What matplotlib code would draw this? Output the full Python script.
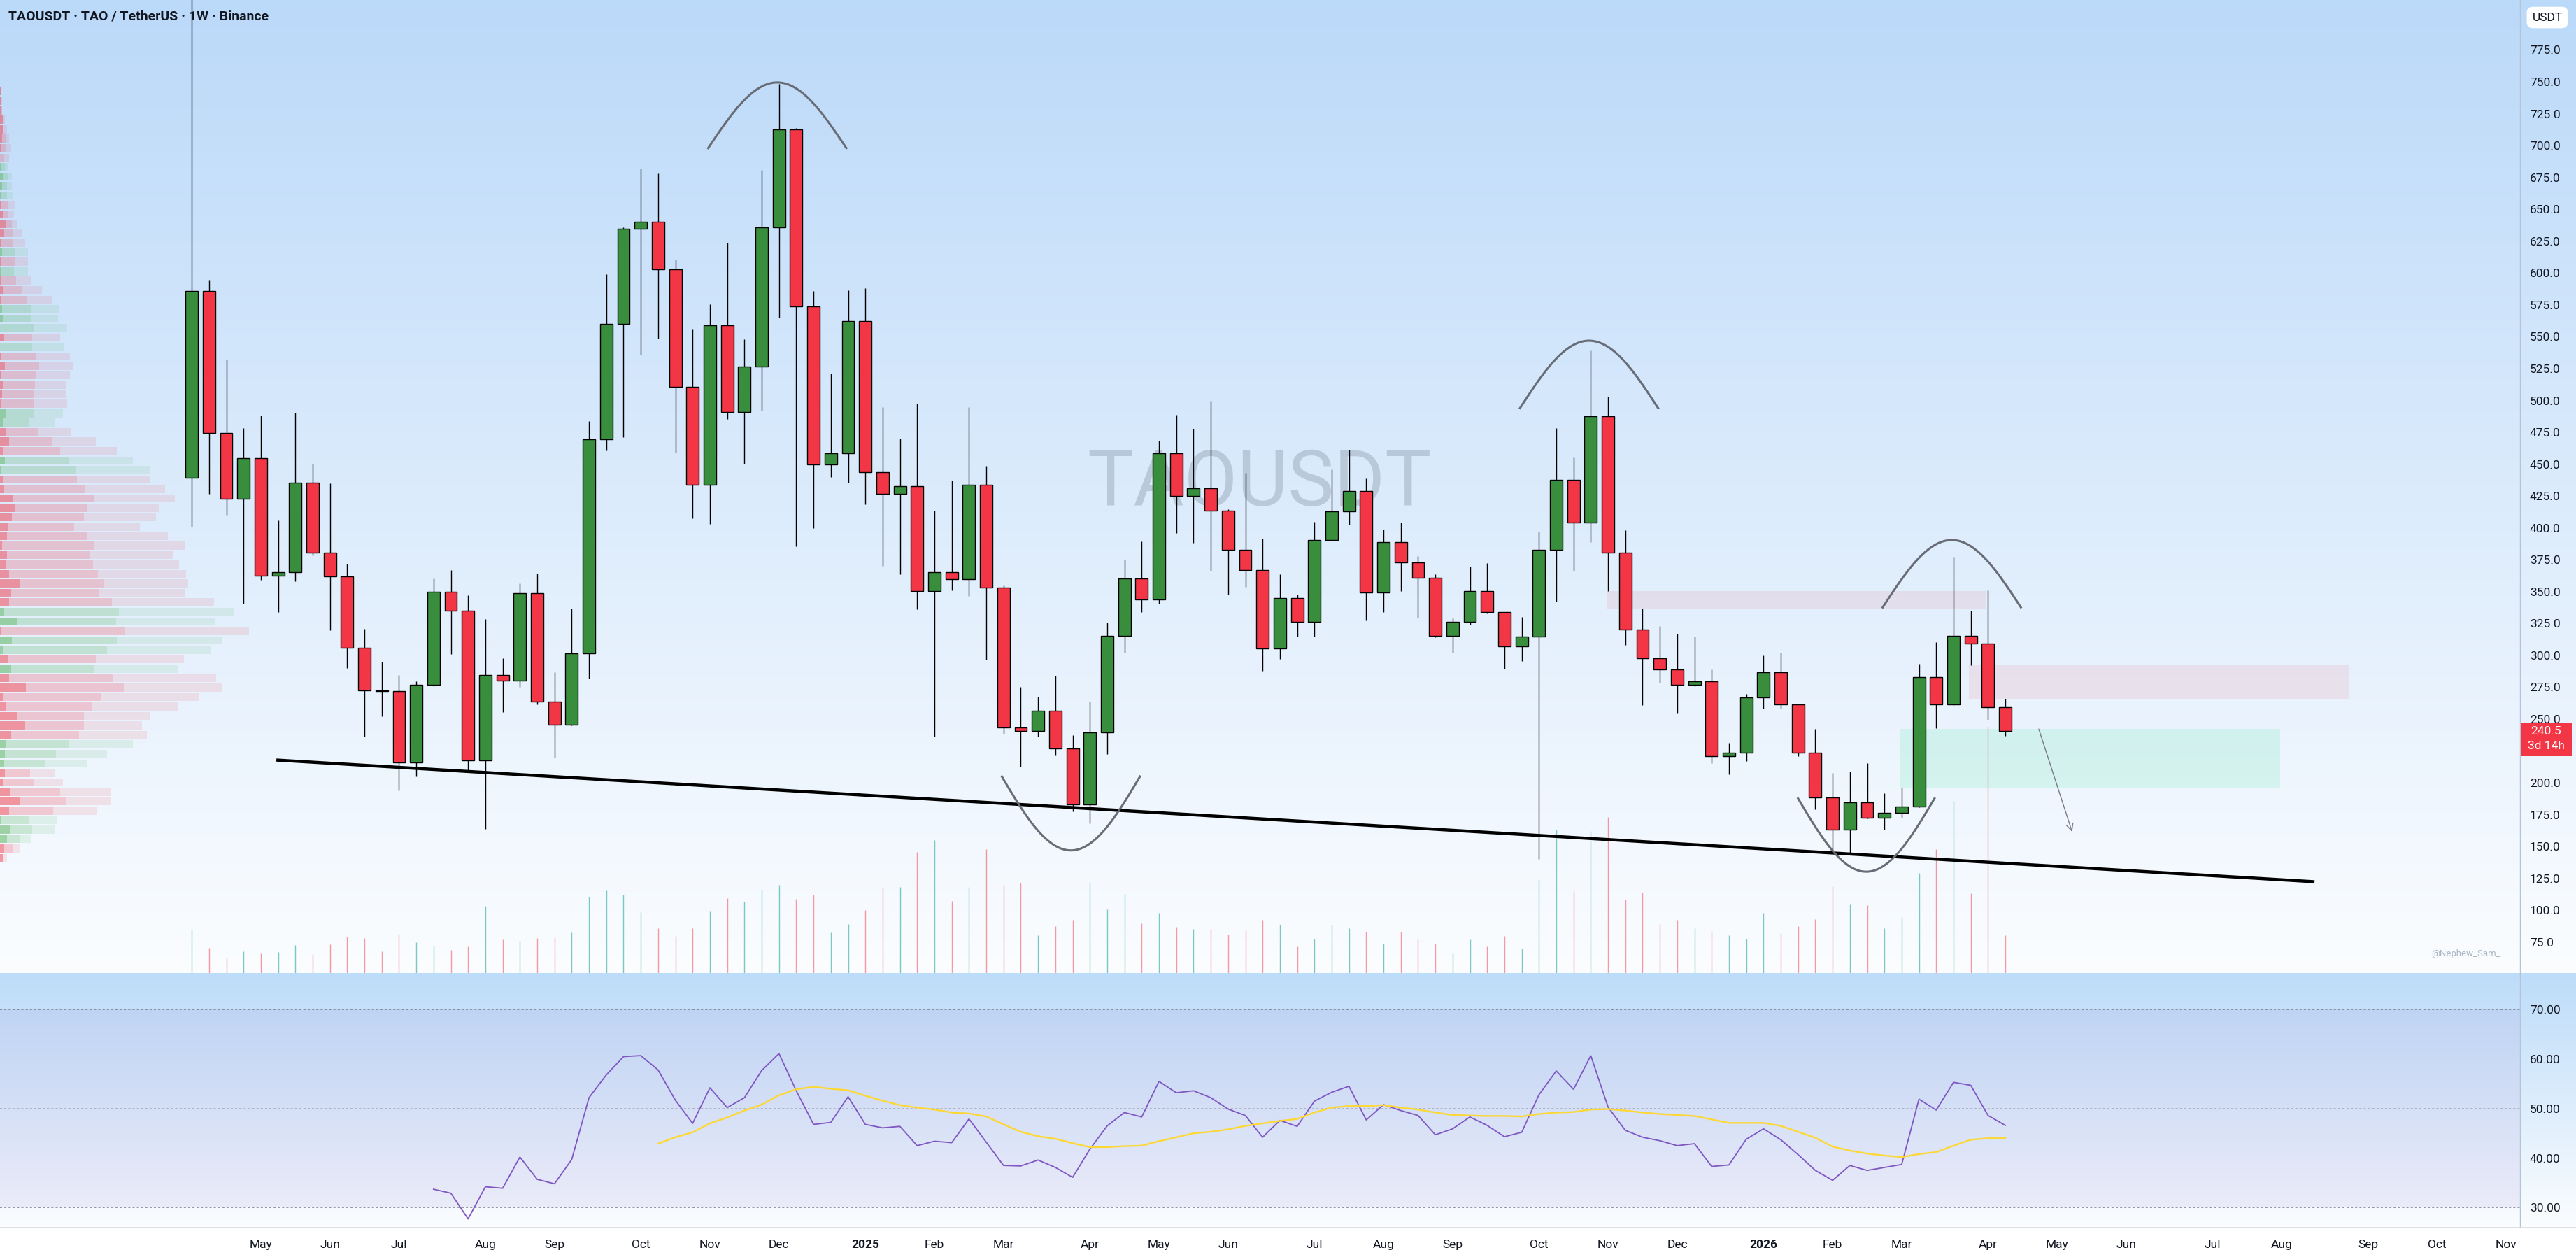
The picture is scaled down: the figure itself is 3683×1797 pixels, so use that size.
import matplotlib
matplotlib.use("Agg")
import matplotlib.pyplot as plt
import matplotlib.transforms as mtransforms
from matplotlib.patches import Rectangle
from matplotlib.lines import Line2D
import numpy as np
import pandas as pd

plt.rcParams["font.family"] = ["Roboto", "DejaVu Sans"]

# ---- data (weekly TAO/USDT, Binance) ----
FIRST_WEEK = "2024-04-08"
opens = [439.3, 585.8, 474.7, 423.1, 455.0, 362.3, 365.3, 435.3, 380.6, 361.8,
         305.8, 272.6, 272.0, 216.2, 276.9, 350.0, 335.2, 217.9, 284.8, 280.0,
         348.7, 263.8, 245.4, 301.4, 469.4, 560.0, 634.8, 640.1, 602.9, 510.6,
         433.6, 559.1, 490.9, 526.8, 635.7, 712.7, 573.6, 449.8, 458.5, 562.2,
         443.6, 426.6, 432.7, 350.4, 365.3, 359.6, 434.0, 353.1, 243.3, 240.6,
         256.4, 227.1, 183.3, 239.8, 315.4, 360.1, 343.9, 458.5, 425.3, 431.4,
         413.4, 382.8, 367.1, 305.4, 345.2, 326.4, 390.3, 413.0, 428.8, 349.1,
         388.9, 372.8, 360.9, 315.4, 326.4, 350.4, 333.8, 307.1, 315.0, 382.8,
         437.9, 404.3, 487.8, 380.6, 320.3, 297.5, 289.2, 276.9, 279.6, 220.9,
         223.6, 266.9, 286.6, 261.6, 223.8, 188.3, 163.1, 184.5, 172.8, 176.6,
         181.3, 282.8, 261.3, 315.2, 309.5, 259.4]
highs = [830.0, 594.1, 532.0, 478.2, 488.3, 406.0, 490.4, 450.2, 434.9, 371.9,
         320.7, 294.9, 284.8, 279.6, 360.5, 367.1, 347.4, 328.6, 298.0, 356.6,
         364.0, 287.0, 336.9, 483.9, 598.9, 636.0, 682.1, 678.1, 610.8, 555.6,
         575.3, 623.9, 548.2, 680.8, 748.6, 714.0, 585.8, 521.1, 586.3, 588.0,
         494.8, 469.9, 497.4, 413.4, 437.1, 494.8, 448.9, 354.8, 275.2, 267.8,
         283.9, 237.6, 263.8, 325.5, 374.9, 389.4, 468.6, 488.7, 477.8, 499.6,
         414.8, 443.2, 391.6, 363.6, 347.8, 404.7, 445.8, 461.1, 438.8, 398.6,
         404.3, 378.0, 363.6, 329.0, 369.7, 372.3, 333.8, 330.3, 397.3, 478.6,
         455.4, 539.4, 503.2, 398.1, 336.9, 322.9, 317.2, 314.6, 289.2, 231.4,
         269.9, 300.2, 302.3, 262.0, 242.4, 207.5, 208.7, 215.3, 191.7, 196.4,
         293.2, 310.5, 377.3, 335.0, 350.8, 265.8]
lows = [400.8, 426.6, 410.4, 340.4, 359.2, 333.8, 358.0, 378.5, 319.8, 290.1,
        236.3, 252.4, 193.8, 204.8, 275.6, 301.0, 209.2, 163.6, 255.5, 275.2,
        261.6, 219.6, 245.0, 281.8, 460.7, 471.2, 535.9, 548.6, 458.9, 407.3,
        403.4, 485.2, 450.2, 491.8, 564.8, 385.4, 399.9, 439.7, 435.3, 418.3,
        370.2, 363.6, 336.4, 236.3, 350.9, 346.5, 296.6, 238.4, 212.6, 236.3,
        221.4, 177.6, 168.0, 222.7, 301.9, 333.8, 340.4, 395.9, 388.1, 366.2,
        347.8, 353.5, 287.9, 297.1, 315.0, 315.0, 390.0, 402.5, 327.3, 333.8,
        350.4, 329.4, 314.2, 301.9, 324.0, 333.0, 289.6, 295.3, 140.4, 342.2,
        366.2, 388.9, 350.4, 308.0, 260.8, 278.3, 254.2, 275.6, 215.3, 206.5,
        217.0, 258.1, 258.0, 220.7, 179.1, 144.5, 144.5, 171.9, 163.1, 172.8,
        180.7, 242.8, 261.0, 292.5, 249.4, 236.8]
closes = [585.8, 474.7, 423.1, 455.0, 362.3, 365.3, 435.3, 380.6, 361.8, 305.8,
          272.6, 272.0, 216.2, 276.9, 350.0, 335.2, 217.9, 284.8, 280.0, 348.7,
          263.8, 245.4, 301.4, 469.4, 560.0, 634.8, 640.1, 602.9, 510.6, 433.6,
          559.1, 490.9, 526.8, 635.7, 712.7, 573.6, 449.8, 458.5, 562.2, 443.6,
          426.6, 432.7, 350.4, 365.3, 359.6, 434.0, 353.1, 243.3, 240.6, 256.4,
          227.1, 183.3, 239.8, 315.4, 360.1, 343.9, 458.5, 425.3, 431.4, 413.4,
          382.8, 367.1, 305.4, 345.2, 326.4, 390.3, 413.0, 428.8, 349.1, 388.9,
          372.8, 360.9, 315.4, 326.4, 350.4, 333.8, 307.1, 315.0, 382.8, 437.9,
          404.3, 487.8, 380.6, 320.3, 297.5, 289.2, 276.9, 279.6, 220.9, 223.6,
          266.9, 286.6, 261.6, 223.8, 188.3, 163.1, 184.5, 172.8, 176.6, 181.3,
          282.8, 261.3, 315.2, 309.5, 259.4, 240.5]
volume = [63, 36, 22, 31, 28, 30, 40, 27, 41, 52, 50, 31, 56, 44, 39, 33, 38, 96,
          48, 46, 50, 51, 58, 109, 118, 112, 87, 64, 53, 64, 88, 107, 102, 119,
          126, 106, 112, 58, 70, 90, 122, 123, 173, 190, 103, 123, 177, 126, 129,
          54, 67, 76, 129, 91, 113, 71, 86, 66, 63, 63, 55, 61, 76, 69, 38, 49,
          69, 64, 59, 42, 59, 48, 42, 28, 48, 38, 53, 35, 134, 205, 117, 203, 223,
          105, 115, 70, 76, 64, 60, 54, 49, 86, 57, 67, 77, 124, 98, 97, 64, 80,
          143, 177, 246, 114, 352, 54]

RSI_START = 14
rsi = [33.7, 32.9, 27.7, 34.2, 33.9, 40.2, 35.7, 34.8, 39.7, 52.2, 56.8, 60.5,
       60.7, 57.8, 51.7, 47.0, 54.2, 50.2, 52.2, 57.7, 61.1, 53.6, 46.8, 47.2,
       52.4, 46.8, 46.1, 46.4, 42.5, 43.4, 43.1, 47.9, 43.2, 38.5, 38.4, 39.6,
       38.1, 36.1, 41.8, 46.5, 49.2, 48.3, 55.5, 53.2, 53.6, 52.2, 49.9, 48.6,
       44.2, 47.6, 46.4, 51.5, 53.3, 54.5, 47.7, 50.8, 49.6, 48.6, 44.7, 45.9,
       48.3, 46.6, 44.3, 45.2, 52.8, 57.6, 53.9, 60.7, 50.3, 45.6, 44.2, 43.5,
       42.5, 42.9, 38.3, 38.6, 43.8, 45.9, 43.7, 40.7, 37.5, 35.5, 38.5, 37.5,
       38.1, 38.7, 51.9, 49.7, 55.3, 54.7, 48.6, 46.6]
RSI_MA_START = 27
rsi_ma = [42.9, 44.2, 45.2, 47.0, 48.2, 49.6, 50.8, 52.7, 53.9, 54.4, 54.0, 53.7,
          52.6, 51.6, 50.7, 50.2, 49.8, 49.2, 49.0, 48.4, 46.8, 45.3, 44.4, 43.9,
          43.0, 42.2, 42.2, 42.4, 42.5, 43.4, 44.2, 45.0, 45.3, 45.8, 46.5, 47.0,
          47.5, 47.9, 49.2, 50.2, 50.5, 50.5, 50.7, 50.2, 49.8, 49.2, 48.7, 48.6,
          48.5, 48.5, 48.4, 48.9, 49.2, 49.3, 49.8, 49.9, 49.6, 49.2, 48.9, 48.7,
          48.5, 47.8, 47.1, 47.1, 47.1, 46.5, 45.3, 44.1, 42.3, 41.5, 40.9, 40.5,
          40.2, 40.8, 41.2, 42.5, 43.7, 44.0, 44.0]

# volume profile (visible range), rows from top price to bottom price
VP_TOP, VP_BOTTOM = 742.5, 141.0
vp_total = [3, 8, 10, 20, 30, 38, 47, 38, 35, 50, 50, 57, 62, 60, 74, 92, 107,
            119, 119, 119, 131, 180, 225, 254, 248, 288, 257, 275, 299, 314, 299,
            284, 281, 288, 269, 236, 305, 410, 500, 569, 641, 641, 707, 749, 680,
            668, 599, 719, 791, 743, 767, 797, 806, 794, 917, 1001, 923, 1067, 950,
            902, 788, 761, 926, 953, 854, 761, 644, 608, 629, 569, 458, 371, 236,
            269, 476, 476, 416, 242, 233, 134, 86, 29]
vp_mid = [3, 5, 8, 12, 15, 24, 27, 18, 21, 33, 30, 30, 36, 36, 51, 57, 57, 63, 63,
          60, 69, 96, 117, 132, 132, 144, 138, 138, 153, 168, 153, 150, 144, 147,
          147, 126, 165, 225, 258, 294, 324, 330, 363, 402, 372, 360, 318, 375,
          402, 387, 399, 420, 444, 423, 480, 510, 498, 537, 501, 459, 411, 405,
          483, 534, 432, 393, 360, 360, 339, 297, 240, 195, 129, 144, 258, 282,
          228, 123, 138, 84, 54, 15]
vp_strong = [3, 5, 5, 15, 15, 8, 3, 0, 3, 12, 8, 3, 5, 12, 23, 18, 5, 8, 5, 3, 3,
             15, 5, 8, 15, 0, 18, 0, 5, 20, 5, 15, 8, 5, 24, 12, 27, 38, 12, 21, 6,
             15, 18, 57, 63, 50, 36, 30, 9, 30, 27, 39, 84, 48, 39, 18, 72, 6, 51,
             12, 33, 48, 39, 111, 12, 24, 72, 108, 48, 24, 21, 18, 21, 15, 42, 87,
             39, 3, 42, 30, 18, 15]
vp_side = ("rrrrrrrr" "gggg" "rrrrr" "g" "r" "g" "rrr" "ggg" "r" "g" "rrrrrr" "gg"
           "rrr" "gg" "rrrrrrrrrrrrrr" "gg" "r" "gg" "r" "g" "rrrrrrr" "ggg"
           "rrrrr" "ggg" "rr")

# drawings (bar index, price)
trend_line = [(4.9, 217.9), (122.9, 122.4)]
arcs = [(29.9, 37.9, 698.0, 749.5), (76.9, 84.9, 494.0, 546.9),
        (97.9, 105.9, 337.7, 390.5), (46.9, 54.9, 205.0, 147.0),
        (93.0, 100.9, 187.8, 130.3)]
zones = [(81.9, 103.9, 336.5, 350.2, "red"), (102.9, 124.9, 265.4, 292.2, "red"),
         (98.9, 120.9, 196.1, 242.4, "green")]
arrow = [(106.9, 243.7), (108.9, 160.2)]
LAST_PRICE, COUNTDOWN = 240.5, "3d 14h"
price_ticks = np.arange(75, 776, 25)
rsi_ticks = [30, 40, 50, 60, 70]

# ---- layout in screen pixels ----
W, H, DPI = 3683, 1797, 100
PLOT_R, MAIN_BOT, RSI_TOP, RSI_BOT = 3603, 1391, 1392, 1755
XLIM = (-11.1, 134.8)
UP, DOWN = "#388E3C", "#F23645"
TXT = "#131722"


def rect(x0, y0, x1, y1):
    return [x0 / W, 1 - y1 / H, (x1 - x0) / W, (y1 - y0) / H]


fig = plt.figure(figsize=(W / DPI, H / DPI), dpi=DPI)

# background gradients
bg = np.ones((H, 1, 3))
top_c, bot_c = np.array([187, 217, 249]) / 255, np.array([251, 253, 255]) / 255
t = np.linspace(0, 1, MAIN_BOT)[:, None]
bg[:MAIN_BOT, 0, :] = top_c * (1 - t) + bot_c * t
t = np.linspace(0, 1, RSI_BOT - MAIN_BOT)[:, None]
bg[MAIN_BOT:RSI_BOT, 0, :] = np.array([189, 220, 249]) / 255 * (1 - t) + bot_c * t
axbg = fig.add_axes([0, 0, 1, 1], zorder=-5)
axbg.imshow(bg, aspect="auto", extent=(0, 1, 0, 1), interpolation="bilinear")
axbg.axis("off")

# volume profile
axvp = fig.add_axes(rect(0, 0, PLOT_R, MAIN_BOT))
axvp.set_xlim(0, PLOT_R * 3)
axvp.set_ylim(50.8, 814.2)
axvp.axis("off")
rows = np.linspace(VP_TOP, VP_BOTTOM, len(vp_total))
row_h = (VP_TOP - VP_BOTTOM) / (len(vp_total) - 1) * 0.86
for y, tot, mid, strong, s in zip(rows, vp_total, vp_mid, vp_strong, vp_side):
    base = (242, 54, 69) if s == "r" else (76, 175, 80)
    c = np.array(base) / 255
    axvp.barh(y, strong, height=row_h, left=0, color=(*c, 0.5), lw=0)
    axvp.barh(y, max(mid - strong, 0), height=row_h, left=strong, color=(*c, 0.24), lw=0)
    axvp.barh(y, max(tot - mid, 0), height=row_h, left=mid, color=(*c, 0.11), lw=0)

# volume bars
axvol = fig.add_axes(rect(0, 0, PLOT_R, MAIN_BOT))
axvol.set_xlim(*XLIM)
axvol.set_ylim(0, MAIN_BOT)
axvol.axis("off")
x = np.arange(len(closes))
o, h, l, c = map(np.array, (opens, highs, lows, closes))
up = c >= o
axvol.vlines(x[up], 0, np.array(volume)[up], color="#26a69a", alpha=0.6, lw=1.0)
axvol.vlines(x[~up], 0, np.array(volume)[~up], color="#f23645", alpha=0.5, lw=1.0)

# main price pane
ax = fig.add_axes(rect(0, 0, PLOT_R, MAIN_BOT))
ax.set_facecolor("none")
ax.set_xlim(*XLIM)
ax.set_ylim(50.8, 814.2)
for sp in ax.spines.values():
    sp.set_visible(False)
ax.set_xticks([])
ax.yaxis.tick_right()
ax.set_yticks(price_ticks)
ax.set_yticklabels([f"{v:.1f}" for v in price_ticks])
ax.tick_params(axis="y", length=0, pad=10, labelsize=12.5, labelcolor=TXT)

ax.text(61.8, 434.4, "TAOUSDT", fontsize=80, color="#9aa9ba", alpha=0.5,
        ha="center", va="center", zorder=0.5)

for x0, x1, y0, y1, kind in zones:
    col = "#F23645" if kind == "red" else "#4fe3a0"
    a = 0.09 if kind == "red" else 0.16
    ax.add_patch(Rectangle((x0, y0), x1 - x0, y1 - y0, fc=col, alpha=a, lw=0, zorder=1))

ax.vlines(x, l, h, color="black", lw=1.0, zorder=2)
ax.bar(x, np.abs(c - o), bottom=np.minimum(o, c), width=0.725,
       color=np.where(up, UP, DOWN), edgecolor="black", lw=1.0, zorder=3)

(tx0, ty0), (tx1, ty1) = trend_line
ax.plot([tx0, tx1], [ty0, ty1], color="black", lw=3.2, solid_capstyle="butt", zorder=4)

for x0, x1, yend, yapex in arcs:
    tt = np.linspace(0, 1, 120)
    ax.plot(x0 + (x1 - x0) * tt, yend + (yapex - yend) * np.sin(np.pi * tt),
            color="#676c76", lw=2.2, zorder=4)

ax.annotate("", xy=arrow[1], xytext=arrow[0],
            arrowprops=dict(arrowstyle="->", color="#787b86", lw=1.0,
                            mutation_scale=18), zorder=4)

# last price label
bl = mtransforms.blended_transform_factory(ax.transAxes, ax.transData)
ax.add_patch(Rectangle((1.0, 220.9), 74 / PLOT_R, 26.4, transform=bl,
                       fc="#F23645", lw=0, clip_on=False, zorder=5))
ax.text(1.0 + 37 / PLOT_R, LAST_PRICE, f"{LAST_PRICE:.1f}", transform=bl,
        ha="center", va="center", color="white", fontsize=12.5, zorder=6)
ax.text(1.0 + 37 / PLOT_R, 229.0, COUNTDOWN, transform=bl,
        ha="center", va="center", color="white", fontsize=12.5, zorder=6)

# RSI pane
axr = fig.add_axes(rect(0, RSI_TOP, PLOT_R, RSI_BOT))
axr.set_facecolor("none")
axr.set_xlim(*XLIM)
axr.set_ylim(25.94, 77.25)
for sp in axr.spines.values():
    sp.set_visible(False)
axr.axhspan(30, 70, color="#7E57C2", alpha=0.09, lw=0)
for lvl, a in ((70, 1.0), (50, 0.55), (30, 1.0)):
    axr.axhline(lvl, color="#787B86", alpha=a, lw=1.1, ls=(0, (2, 2)))
axr.plot(np.arange(RSI_START, RSI_START + len(rsi)), rsi, color="#7E57C2", lw=1.3)
axr.plot(np.arange(RSI_MA_START, RSI_MA_START + len(rsi_ma)), rsi_ma,
         color="#FDD835", lw=1.7)
axr.yaxis.tick_right()
axr.set_yticks(rsi_ticks)
axr.set_yticklabels([f"{v:.2f}" for v in rsi_ticks])
axr.tick_params(axis="y", length=0, pad=10, labelsize=12.5, labelcolor=TXT)

# time axis
dates = pd.date_range(FIRST_WEEK, periods=135, freq="7D")
tpos, tlab = [], []
for i in range(1, len(dates)):
    if dates[i].month != dates[i - 1].month:
        tpos.append(i)
        tlab.append(str(dates[i].year) if dates[i].month == 1 else dates[i].strftime("%b"))
axr.set_xticks(tpos)
axr.set_xticklabels(tlab)
axr.tick_params(axis="x", length=0, pad=12, labelsize=12.5, labelcolor=TXT)
for lab in axr.get_xticklabels():
    if lab.get_text().isdigit():
        lab.set_fontweight("bold")

# frame lines and header
fig.add_artist(Line2D([(PLOT_R - 0.5) / W] * 2, [1 - RSI_BOT / H, 1], color="#b3c4d8",
                      lw=1.0, transform=fig.transFigure))
fig.add_artist(Line2D([0, 1], [1 - RSI_BOT / H] * 2, color="#d6d9e0", lw=1.2,
                      transform=fig.transFigure))
fig.text(12 / W, 1 - 24 / H, "TAOUSDT · TAO / TetherUS · 1W · Binance",
         fontsize=14, color=TXT, fontweight="semibold", va="center")
fig.text(3642 / W, 1 - 25 / H, "USDT", fontsize=12.5, color=TXT, ha="center", va="center",
         bbox=dict(boxstyle="round,pad=0.45,rounding_size=0.5", fc="white", ec="none"))
fig.text(3526 / W, 1 - 1363 / H, "@Nephew_Sam_", fontsize=9.5, color="#aab6c4",
         ha="center", va="center")

fig.savefig("out.png", dpi=DPI)
